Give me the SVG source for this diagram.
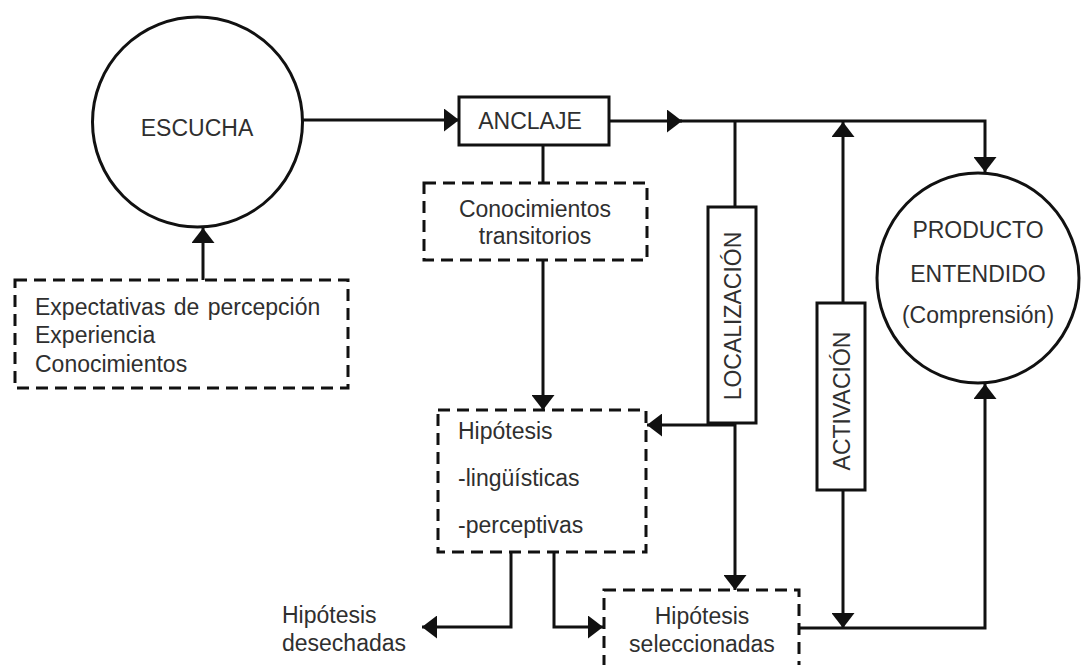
<svg xmlns="http://www.w3.org/2000/svg" width="1081" height="665" viewBox="0 0 1081 665">
<style>
.t{font-family:"Liberation Sans",Arial,sans-serif;font-size:23px;fill:#2f2f2f;word-spacing:2px}
.m{text-anchor:middle}
.s{fill:#fff;stroke:#111;stroke-width:3}
.d{fill:#fff;stroke:#111;stroke-width:3;stroke-dasharray:12 7}
.c{fill:none;stroke:#111;stroke-width:3}
</style>
<defs>
<marker id="ah" viewBox="0 0 10 10" refX="10" refY="5" markerUnits="userSpaceOnUse" markerWidth="15" markerHeight="23" preserveAspectRatio="none" orient="auto">
<path d="M0,0 L10,5 L0,10 z" fill="#111"/>
</marker>
</defs>
<rect width="1081" height="665" fill="#fff"/>
<g id="connectors">
<line class="c" x1="303" y1="120" x2="459" y2="120" marker-end="url(#ah)"/>
<line class="c" x1="609" y1="121" x2="682" y2="121" marker-end="url(#ah)"/>
<polyline class="c" points="680,121 985,121 985,172" marker-end="url(#ah)"/>
<line class="c" x1="203" y1="280" x2="203" y2="228" marker-end="url(#ah)"/>
<line class="c" x1="543" y1="145" x2="543" y2="183"/>
<line class="c" x1="543" y1="260" x2="543" y2="410" marker-end="url(#ah)"/>
<line class="c" x1="735" y1="121" x2="735" y2="207"/>
<line class="c" x1="735" y1="423" x2="735" y2="590" marker-end="url(#ah)"/>
<line class="c" x1="735" y1="425" x2="647" y2="425" marker-end="url(#ah)"/>
<line class="c" x1="843" y1="303" x2="843" y2="122" marker-end="url(#ah)"/>
<line class="c" x1="843" y1="490" x2="843" y2="628" marker-end="url(#ah)"/>
<polyline class="c" points="799,628 985,628 985,384" marker-end="url(#ah)"/>
<polyline class="c" points="511,552 511,627 422,627" marker-end="url(#ah)"/>
<polyline class="c" points="554,552 554,627 603,627" marker-end="url(#ah)"/>
</g>
<g id="escucha">
<circle class="s" cx="197.5" cy="122" r="105"/>
<text class="t m" x="197" y="136">ESCUCHA</text>
</g>
<g id="expectativas">
<rect class="d" x="15" y="280" width="333" height="108"/>
<text class="t" x="35" y="315">Expectativas de percepción</text>
<text class="t" x="35" y="343">Experiencia</text>
<text class="t" x="35" y="372">Conocimientos</text>
</g>
<g id="anclaje">
<rect class="s" x="459" y="97" width="150" height="48"/>
<text class="t m" x="530" y="129">ANCLAJE</text>
</g>
<g id="transitorios">
<rect class="d" x="424" y="183" width="223" height="77"/>
<text class="t m" x="535" y="217">Conocimientos</text>
<text class="t m" x="535" y="244">transitorios</text>
</g>
<g id="localizacion">
<rect class="s" x="708" y="207" width="48" height="216"/>
<text class="t m" transform="translate(741,316) rotate(-90)">LOCALIZACIÓN</text>
</g>
<g id="activacion">
<rect class="s" x="817" y="303" width="48" height="187"/>
<text class="t m" transform="translate(850,401) rotate(-90)">ACTIVACIÓN</text>
</g>
<g id="producto">
<ellipse class="s" cx="978" cy="278" rx="101" ry="105"/>
<text class="t m" x="978" y="238">PRODUCTO</text>
<text class="t m" x="978" y="282">ENTENDIDO</text>
<text class="t m" x="978" y="323">(Comprensión)</text>
</g>
<g id="hipotesis">
<rect class="d" x="438" y="410" width="208" height="142"/>
<text class="t" x="458" y="439">Hipótesis</text>
<text class="t" x="458" y="486">-lingüísticas</text>
<text class="t" x="458" y="533">-perceptivas</text>
</g>
<g id="desechadas">
<text class="t" x="282" y="623">Hipótesis</text>
<text class="t" x="282" y="651">desechadas</text>
</g>
<g id="seleccionadas">
<rect class="d" x="604" y="590" width="195" height="100"/>
<text class="t m" x="702" y="624">Hipótesis</text>
<text class="t m" x="702" y="652">seleccionadas</text>
</g>
</svg>
